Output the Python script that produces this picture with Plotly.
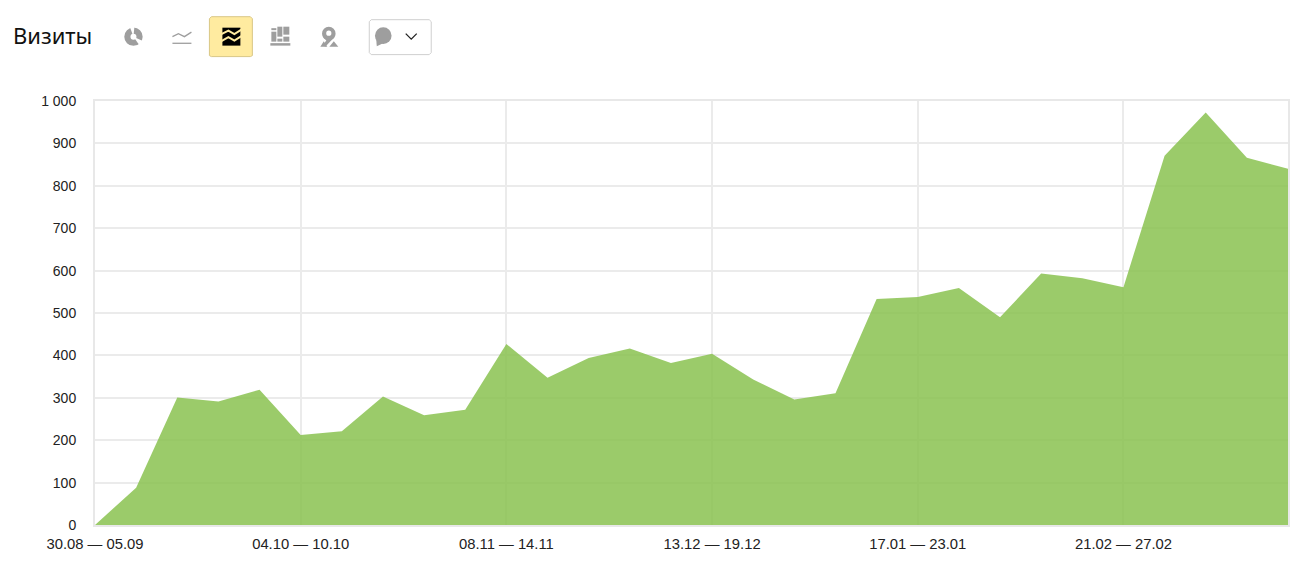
import plotly.graph_objects as go

W, H = 1306, 574
L, R, T, B = 94.5, 1288.5, 100.5, 525.5

visits = [0, 88, 301, 291, 319, 212, 221, 303, 259, 272, 427, 347, 394, 416, 382,
          404, 343, 296, 311, 533, 538, 559, 490, 593, 582, 561, 871, 973, 866, 840]
tick_positions = [0, 5, 10, 15, 20, 25]
tick_labels = ["30.08 — 05.09", "04.10 — 10.10", "08.11 — 14.11",
               "13.12 — 19.12", "17.01 — 23.01", "21.02 — 27.02"]
y_ticks = [0, 100, 200, 300, 400, 500, 600, 700, 800, 900, 1000]
y_labels = ["0", "100", "200", "300", "400", "500", "600", "700", "800", "900", "1 000"]

GREY = "#9e9e9e"


def px(x):
    return (x - L) / (R - L)


def py(y):
    return (B - y) / (B - T)


def path(points, close=True):
    s = "M" + " L".join(f"{px(x):.5f},{py(y):.5f}" for x, y in points)
    return s + (" Z" if close else "")


def rect(x0, y0, x1, y1, fill, line=None, width=0):
    return dict(type="rect", xref="paper", yref="paper", x0=px(x0), x1=px(x1),
                y0=py(y1), y1=py(y0), fillcolor=fill,
                line=dict(color=line or "rgba(0,0,0,0)", width=width), layer="above")


def poly(points, fill=None, line=None, width=0, close=True):
    return dict(type="path", xref="paper", yref="paper", path=path(points, close),
                fillcolor=fill or "rgba(0,0,0,0)",
                line=dict(color=line or "rgba(0,0,0,0)", width=width), layer="above")


def circle(cx, cy, r, fill):
    return dict(type="circle", xref="paper", yref="paper", x0=px(cx - r), x1=px(cx + r),
                y0=py(cy + r), y1=py(cy - r), fillcolor=fill,
                line=dict(color="rgba(0,0,0,0)", width=0), layer="above")


shapes = [
    # pie icon
    circle(133, 36, 9.2, GREY),
    poly([(133, 36), (129, 25), (134, 25)], "white"),
    poly([(133, 36), (144, 41), (140, 46)], "white"),
    circle(133, 36, 3, "white"),
    # line icon
    poly([(172, 36), (178, 33), (184, 36), (191, 31.5)], None, GREY, 1.3, False),
    rect(172, 42, 191, 43.3, GREY),
    # active button
    poly([(211, 16), (250, 16), (252, 18), (252, 55), (250, 56), (211, 56), (209, 55), (209, 18)],
         "#ffeba0", "#d9c786", 1),
    rect(222, 27, 240, 45, "black"),
    poly([(221, 33.5), (228, 30), (234, 33.5), (241, 29)], None, "#ffeba0", 2, False),
    poly([(221, 40.5), (228, 36.5), (234, 40), (241, 35.5)], None, "#ffeba0", 2, False),
    # treemap icon
    rect(271, 27.5, 276, 29.5, GREY), rect(271, 31, 276, 41, GREY),
    rect(277, 26, 282, 36, GREY), rect(277, 38, 282, 41, GREY),
    rect(283, 26, 289, 34, GREY), rect(283, 36, 289, 41, GREY),
    rect(270, 42.5, 290, 45, GREY),
    # map icon
    poly([(322.5, 36), (334.5, 36), (325, 46), (323, 44.5), (326, 39.5)], GREY),
    circle(328.5, 33, 6.8, GREY), circle(328.5, 32.5, 2.6, "white"),
    poly([(320, 46), (323.5, 40.5), (327, 46)], GREY),
    poly([(329, 46), (333.5, 40.5), (338, 46)], GREY),
    # comment dropdown
    poly([(371, 19), (429, 19), (431, 21), (431, 52), (429, 54), (371, 54), (369, 52), (369, 21)],
         "white", "#cfcfcf", 1),
    circle(383, 35, 8.3, GREY),
    poly([(376, 39), (376.5, 45.5), (384, 42)], GREY),
    poly([(405.5, 33), (411, 38.5), (416.5, 33)], None, "#222222", 1.3, False),
]

fig = go.Figure(go.Scatter(
    x=list(range(len(visits))), y=visits, mode="lines", fill="tozeroy",
    fillcolor="rgba(135,193,76,0.83)", line=dict(color="rgba(0,0,0,0)", width=0),
    hoverinfo="skip", showlegend=False,
))

fig.update_layout(
    width=W, height=H,
    margin=dict(l=L, r=W - R, t=T, b=H - B, pad=0),
    paper_bgcolor="white", plot_bgcolor="white",
    font=dict(family="Liberation Sans, Arial, sans-serif", size=14, color="#222222"),
    shapes=shapes,
    annotations=[dict(text="Визиты", xref="paper", yref="paper", x=px(10), y=py(34.5),
                      xanchor="left", yanchor="middle", showarrow=False,
                      font=dict(family="Noto Sans, sans-serif", size=22, color="#111111"))],
    xaxis=dict(range=[0, 29], tickmode="array", tickvals=tick_positions, ticktext=tick_labels,
               showgrid=True, gridcolor="#ebebeb", gridwidth=2, zeroline=False,
               showline=True, linecolor="#e8e8e8", linewidth=2, mirror=True,
               ticks="", ticklabelstandoff=4, tickfont=dict(size=14.8)),
    yaxis=dict(range=[0, 1000], tickmode="array", tickvals=y_ticks, ticktext=y_labels,
               showgrid=True, gridcolor="#ebebeb", gridwidth=2, zeroline=False,
               showline=True, linecolor="#e8e8e8", linewidth=2, mirror=True,
               ticks="", ticklabelstandoff=14),
)

fig.write_html("out.html", config={"displayModeBar": False},
               post_script="document.body.style.margin='0';")
